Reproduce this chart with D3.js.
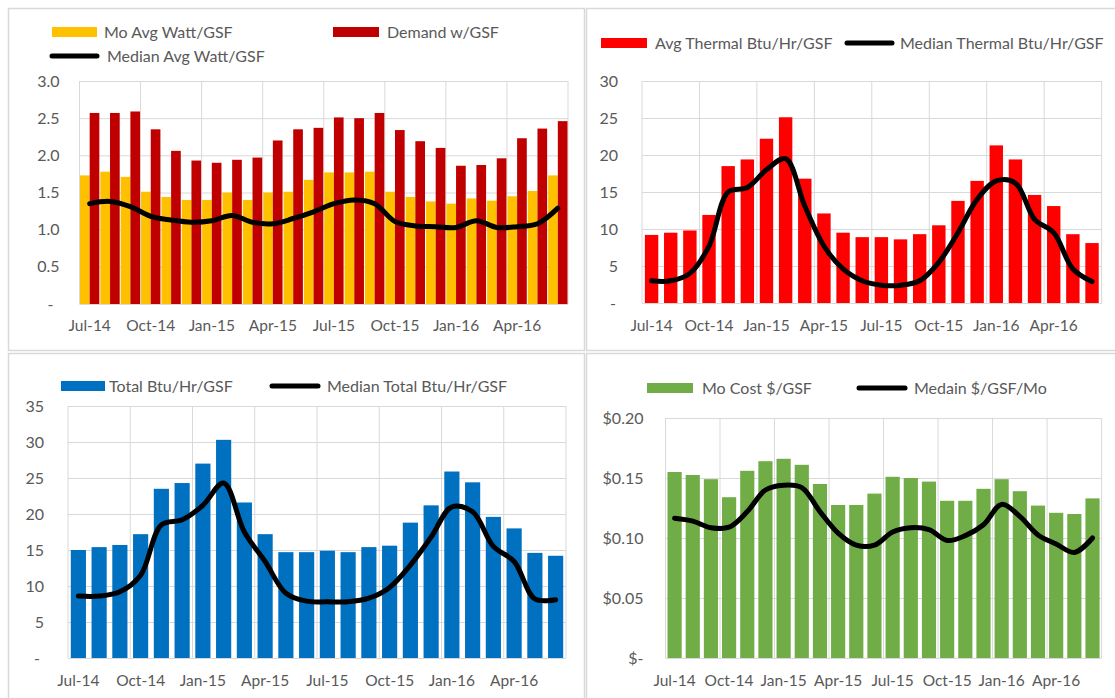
<!DOCTYPE html>
<html>
<head>
<meta charset="utf-8">
<script src="https://cdn.jsdelivr.net/npm/d3@7"></script>
<style>
  html, body { margin: 0; padding: 0; background: #ffffff; }
  svg { display: block; }
  text { font-family: Lato, "Open Sans", sans-serif; fill: #595959; }
</style>
</head>
<body>
<svg id="chart" width="1115" height="698"></svg>
<script>
// ---------- DATA ----------
const months = ["Jul-14","Aug-14","Sep-14","Oct-14","Nov-14","Dec-14","Jan-15","Feb-15","Mar-15","Apr-15","May-15","Jun-15",
                "Jul-15","Aug-15","Sep-15","Oct-15","Nov-15","Dec-15","Jan-16","Feb-16","Mar-16","Apr-16","May-16","Jun-16"];
const xTickLabels = ["Jul-14","Oct-14","Jan-15","Apr-15","Jul-15","Oct-15","Jan-16","Apr-16"];

// Panel 1: electricity
const moAvgWatt   = [1.73,1.78,1.71,1.51,1.44,1.40,1.40,1.50,1.40,1.50,1.51,1.67,1.77,1.77,1.78,1.51,1.44,1.38,1.35,1.42,1.39,1.45,1.52,1.73];
const demandWatt  = [2.57,2.57,2.59,2.35,2.06,1.93,1.90,1.94,1.97,2.20,2.35,2.37,2.51,2.50,2.57,2.34,2.19,2.10,1.86,1.87,1.96,2.23,2.36,2.46];
const medianWatt  = [1.35,1.38,1.31,1.18,1.13,1.10,1.12,1.19,1.10,1.08,1.15,1.24,1.35,1.40,1.35,1.11,1.05,1.04,1.03,1.12,1.03,1.04,1.08,1.29];
const yTicks1 = [0,0.5,1.0,1.5,2.0,2.5,3.0];
const yLabels1 = ["-","0.5","1.0","1.5","2.0","2.5","3.0"];

// Panel 2: thermal
const avgThermal    = [9.2,9.5,9.8,11.9,18.5,19.4,22.2,25.1,16.8,12.1,9.5,8.9,8.9,8.6,9.3,10.5,13.8,16.5,21.3,19.4,14.6,13.1,9.3,8.1];
const medianThermal = [3.0,3.0,4.0,7.7,15.0,15.6,18.0,19.5,13.1,7.7,4.6,3.0,2.4,2.4,3.0,5.5,9.5,14.0,16.5,16.2,11.3,9.5,4.6,2.9];
const yTicks2 = [0,5,10,15,20,25,30];
const yLabels2 = ["-","5","10","15","20","25","30"];

// Panel 3: total
const totalBtu    = [15.0,15.4,15.7,17.2,23.5,24.3,27.0,30.3,21.6,17.2,14.7,14.7,14.9,14.7,15.4,15.6,18.8,21.2,25.9,24.4,19.6,18.0,14.6,14.2];
const medianTotal = [8.6,8.6,9.2,11.5,18.5,19.2,21.2,24.3,17.5,13.4,9.0,7.9,7.8,7.8,8.3,9.8,12.9,16.8,21.0,20.3,15.5,13.4,8.2,8.1];
const yTicks3 = [0,5,10,15,20,25,30,35];
const yLabels3 = ["-","5","10","15","20","25","30","35"];

// Panel 4: cost
const moCost     = [0.155,0.1525,0.149,0.134,0.156,0.164,0.166,0.161,0.145,0.1275,0.1275,0.137,0.151,0.150,0.147,0.131,0.131,0.141,0.149,0.139,0.127,0.121,0.120,0.133];
const medianCost = [0.1164,0.114,0.1086,0.109,0.122,0.140,0.144,0.142,0.122,0.104,0.094,0.094,0.105,0.1086,0.107,0.098,0.102,0.111,0.128,0.118,0.1025,0.095,0.088,0.100];
const yTicks4 = [0,0.05,0.10,0.15,0.20];
const yLabels4 = ["$-","$0.05","$0.10","$0.15","$0.20"];

// ---------- DRAW ----------
const svg = d3.select("#chart");
const GRID = "#d9d9d9";

// panel frames
const frames = [
  {x: 8.5, y: 8.5, w: 576, h: 342},
  {x: 586.5, y: 8.5, w: 540, h: 342},
  {x: 8.5, y: 353.5, w: 576, h: 360},
  {x: 586.5, y: 353.5, w: 540, h: 360}
];
svg.selectAll("rect.frame").data(frames).join("rect")
  .attr("class","frame")
  .attr("x", d => d.x).attr("y", d => d.y).attr("width", d => d.w).attr("height", d => d.h)
  .attr("fill", "none").attr("stroke", GRID).attr("stroke-width", 1.5);

function panel(cfg) {
  const g = svg.append("g");
  const x = d3.scaleBand().domain(months).range([cfg.left, cfg.right])
    .paddingInner(cfg.pad).paddingOuter(cfg.pad / 2);
  const y = d3.scaleLinear().domain([cfg.yTicks[0], cfg.yTicks[cfg.yTicks.length - 1]]).range([cfg.bottom, cfg.top]);

  // horizontal gridlines
  const yAxis = d3.axisLeft(y).tickValues(cfg.yTicks)
    .tickSize(-(cfg.right - cfg.left)).tickFormat((d, i) => cfg.yLabels[i]).tickPadding(cfg.yPad);
  const ya = g.append("g").attr("transform", `translate(${cfg.left},0)`).call(yAxis);
  ya.select(".domain").remove();
  ya.selectAll(".tick line").attr("stroke", GRID).attr("stroke-width", 1);
  ya.selectAll(".tick text").attr("font-size", cfg.yFont).attr("fill", "#595959")
    .attr("font-family", "Lato, 'Open Sans', sans-serif")
    .attr("dx", (d, i) => cfg.yLabels[i] === "-" ? -cfg.dashShift : 0);

  // vertical gridlines at every 3rd category boundary
  const step = x.step();
  const bounds = d3.range(0, months.length + 1, 3).map(i => x.range()[0] + i * step);
  g.selectAll("line.vg").data(bounds).join("line")
    .attr("class","vg")
    .attr("x1", d => d).attr("x2", d => d).attr("y1", cfg.top).attr("y2", cfg.bottom)
    .attr("stroke", GRID).attr("stroke-width", 1);

  // x tick labels
  const xAxis = d3.axisBottom(x).tickValues(xTickLabels).tickSize(0).tickPadding(cfg.xPad);
  const xa = g.append("g").attr("transform", `translate(0,${cfg.bottom})`).call(xAxis);
  xa.select(".domain").remove();
  xa.selectAll(".tick text").attr("font-size", cfg.xFont).attr("fill", "#595959")
    .attr("font-family", "Lato, 'Open Sans', sans-serif");

  // bars
  const sub = d3.scaleBand().domain(d3.range(cfg.bars.length)).range([0, x.bandwidth()]).paddingInner(0);
  cfg.bars.forEach((b, k) => {
    g.append("g").selectAll("rect").data(b.values).join("rect")
      .attr("x", (d, i) => x(months[i]) + sub(k))
      .attr("width", sub.bandwidth())
      .attr("y", d => y(d))
      .attr("height", d => y(0) - y(d))
      .attr("fill", b.color);
  });

  // median line
  const line = d3.line()
    .x((d, i) => x(months[i]) + x.bandwidth() / 2)
    .y(d => y(d))
    .curve(d3.curveCatmullRom.alpha(0.5));
  g.append("path").datum(cfg.median).attr("d", line)
    .attr("fill", "none").attr("stroke", "#000").attr("stroke-width", 5)
    .attr("stroke-linejoin", "round").attr("stroke-linecap", "round");

  // legend
  cfg.legend.forEach(l => {
    if (l.type === "rect") {
      g.append("rect").attr("x", l.x).attr("y", l.y - 5).attr("width", l.w).attr("height", 10).attr("fill", l.color);
    } else {
      g.append("line").attr("x1", l.x).attr("x2", l.x + l.w).attr("y1", l.y).attr("y2", l.y)
        .attr("stroke", "#000").attr("stroke-width", 5).attr("stroke-linecap", "round");
    }
    g.append("text").attr("x", l.tx).attr("y", l.y).attr("dy", "0.35em")
      .attr("font-size", cfg.legendFont).text(l.label);
  });
}

panel({
  left: 79.5, right: 568, top: 81, bottom: 304, pad: 0.05,
  yTicks: yTicks1, yLabels: yLabels1, yPad: 20, yFont: 16, dashShift: 6, xPad: 16, xFont: 15.5, legendFont: 16,
  bars: [{values: moAvgWatt, color: "#FFC000"}, {values: demandWatt, color: "#C00000"}],
  median: medianWatt,
  legend: [
    {type: "rect", x: 52, y: 32, w: 45, color: "#FFC000", tx: 104, label: "Mo Avg Watt/GSF"},
    {type: "rect", x: 333, y: 32, w: 46, color: "#C00000", tx: 387, label: "Demand w/GSF"},
    {type: "line", x: 52, y: 56, w: 45, tx: 107, label: "Median Avg Watt/GSF"}
  ]
});

panel({
  left: 642, right: 1101.6, top: 81, bottom: 303, pad: 0.3,
  yTicks: yTicks2, yLabels: yLabels2, yPad: 24, yFont: 16, dashShift: 2, xPad: 17, xFont: 15.5, legendFont: 16,
  bars: [{values: avgThermal, color: "#FF0000"}],
  median: medianThermal,
  legend: [
    {type: "rect", x: 601, y: 43, w: 46, color: "#FF0000", tx: 655, label: "Avg Thermal Btu/Hr/GSF"},
    {type: "line", x: 847, y: 43, w: 45, tx: 900, label: "Median Thermal Btu/Hr/GSF"}
  ]
});

panel({
  left: 68, right: 566, top: 406, bottom: 658, pad: 0.27,
  yTicks: yTicks3, yLabels: yLabels3, yPad: 24, yFont: 16, dashShift: 4, xPad: 17, xFont: 15.5, legendFont: 16,
  bars: [{values: totalBtu, color: "#0070C0"}],
  median: medianTotal,
  legend: [
    {type: "rect", x: 61, y: 386, w: 44, color: "#0070C0", tx: 109, label: "Total Btu/Hr/GSF"},
    {type: "line", x: 272, y: 386, w: 46, tx: 327, label: "Median Total Btu/Hr/GSF"}
  ]
});

panel({
  left: 665.5, right: 1101.6, top: 418, bottom: 658, pad: 0.22,
  yTicks: yTicks4, yLabels: yLabels4, yPad: 22, yFont: 16, dashShift: 12, xPad: 17, xFont: 15.5, legendFont: 16,
  bars: [{values: moCost, color: "#70AD47"}],
  median: medianCost,
  legend: [
    {type: "rect", x: 647, y: 388, w: 46, color: "#70AD47", tx: 702, label: "Mo Cost $/GSF"},
    {type: "line", x: 859, y: 388, w: 46, tx: 914, label: "Medain $/GSF/Mo"}
  ]
});
</script>
</body>
</html>
